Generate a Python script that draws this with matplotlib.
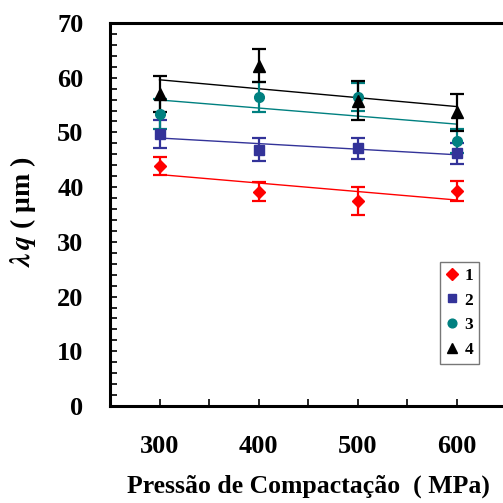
import numpy as np
import matplotlib
matplotlib.use("Agg")
import matplotlib.pyplot as plt
from matplotlib.lines import Line2D

# pressões de compactação (MPa)
pressao = [300, 400, 500, 600]

# valores de lambda_q (um) e barras de erro
serie1 = [43.9, 39.2, 37.5, 39.3]
erro1 = [1.7, 1.8, 2.6, 1.75]
serie2 = [49.7, 46.8, 47.1, 46.2]
erro2 = [2.5, 2.1, 1.9, 1.9]
serie3 = [53.4, 56.5, 56.5, 48.5]
erro3 = [2.8, 2.8, 2.6, 2.2]
serie4 = [57.0, 62.2, 55.8, 53.7]
erro4 = [3.3, 3.0, 3.6, 3.4]

rotulos = ["1", "2", "3", "4"]
cores = ["#FF0000", "#333399", "#008080", "#000000"]
marcadores = ["D", "s", "o", "^"]
tamanhos = [6.5, 7, 7, 8]

plt.rcParams["font.family"] = ["Liberation Serif", "DejaVu Serif"]
plt.rcParams["font.weight"] = "bold"
plt.rcParams["mathtext.fontset"] = "stix"

fig = plt.figure(figsize=(5.03, 5.03), dpi=100)
ax = fig.add_axes([110 / 503, 97 / 503, 396 / 503, 383 / 503])

x = np.array(pressao)
series = [(serie1, erro1), (serie2, erro2), (serie3, erro3), (serie4, erro4)]
handles = []
for (y, e), lab, c, m, ms in zip(series, rotulos, cores, marcadores, tamanhos):
    # reta de regressão linear
    a, b = np.polyfit(x, y, 1)
    ax.plot(x, a * x + b, color=c, linewidth=1.0, zorder=2)
    ax.errorbar(x, y, yerr=e, fmt=m, color=c, markersize=ms, ecolor=c,
                elinewidth=1.6, capsize=5, capthick=1.6, zorder=3)
    handles.append(Line2D([], [], linestyle="none", marker=m, color=c,
                          markersize=ms * 0.9, label=lab))

ax.set_xlim(250, 650)
ax.set_ylim(0, 70)
ax.set_xticks([300, 400, 500, 600])
ax.set_xticks([250, 350, 450, 550, 650], minor=True)
ax.set_yticks(range(0, 71, 10))
ax.set_yticks(range(0, 71, 2), minor=True)

for s in ["left", "top", "bottom"]:
    ax.spines[s].set_linewidth(2.2)
ax.spines["right"].set_visible(False)

ax.tick_params(which="both", direction="in", top=False, right=False)
ax.tick_params(axis="y", which="both", length=5, width=1.2, pad=19, labelsize=19)
ax.tick_params(axis="x", which="both", length=5, width=1.2, pad=21, labelsize=19)
for t in ax.get_xticklabels() + ax.get_yticklabels():
    t.set_fontweight("bold")

ax.set_xlabel("Pressão de Compactação  ( MPa)", fontsize=18.5, fontweight="bold",
              labelpad=12)
fig.text(0.045, 0.58, r"$\lambda\,q$" + " ( μm )", rotation=90, fontsize=20,
         fontweight="bold", ha="center", va="center")

leg = ax.legend(handles=handles, loc="upper left",
                bbox_to_anchor=(330 / 396, 144 / 383),
                frameon=True, fancybox=False, edgecolor="#555555",
                prop={"family": "Liberation Serif", "weight": "bold", "size": 12.5},
                handlelength=0.7, handletextpad=0.4, labelspacing=0.5,
                borderpad=0.32, borderaxespad=0)
leg.get_frame().set_linewidth(1.0)

fig.savefig("out.png", dpi=100)
